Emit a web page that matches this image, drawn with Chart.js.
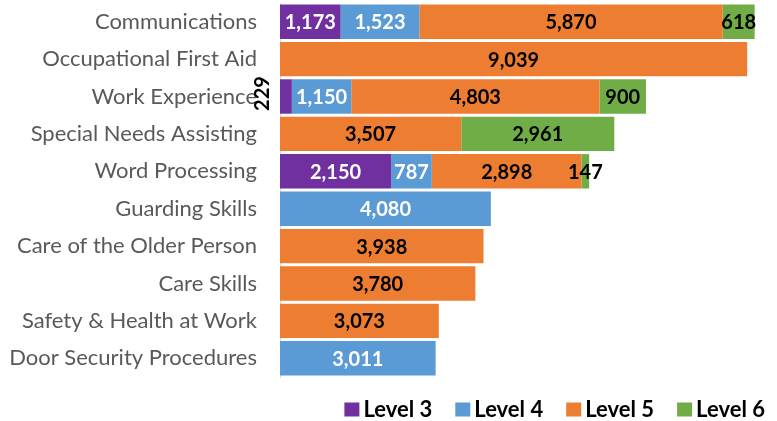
<!DOCTYPE html>
<html><head><meta charset="utf-8">
<script src="https://cdn.jsdelivr.net/npm/chart.js@4"></script>
<style>html,body{margin:0;padding:0;background:#fff}#wrap{width:777px;height:421px}</style>
</head><body><div id="wrap"><canvas id="c"></canvas></div>
<script>
const categories = ["Communications","Occupational First Aid","Work Experience","Special Needs Assisting","Word Processing","Guarding Skills","Care of the Older Person","Care Skills","Safety & Health at Work","Door Security Procedures"];
const level3 = [1173, 0, 229, 0, 2150, 0, 0, 0, 0, 0];
const level4 = [1523, 0, 1150, 0, 787, 4080, 0, 0, 0, 3011];
const level5 = [5870, 9039, 4803, 3507, 2898, 0, 3938, 3780, 3073, 0];
const level6 = [618, 0, 900, 2961, 147, 0, 0, 0, 0, 0];
const seriesNames = ["Level 3","Level 4","Level 5","Level 6"];
const colors = ["#7030A0","#5B9BD5","#ED7D31","#70AD47"];
const labelColors = ["#ffffff","#ffffff","#000000","#000000"];
const FONT = "Lato, 'Open Sans', sans-serif";

const labelPlugin = {
  id: 'barLabels',
  afterDatasetsDraw(chart) {
    const ctx = chart.ctx;
    ctx.save();
    ctx.font = "bold 20px " + FONT;
    ctx.textBaseline = 'middle';
    chart.data.datasets.forEach((ds, di) => {
      const meta = chart.getDatasetMeta(di);
      meta.data.forEach((bar, i) => {
        const v = ds.data[i];
        if (!v) return;
        const txt = v.toLocaleString('en-US');
        const w = ctx.measureText(txt).width;
        const left = Math.min(bar.base, bar.x), right = Math.max(bar.base, bar.x);
        const segW = right - left;
        if (segW < w * 0.5 && di === 0) {
          ctx.save();
          ctx.translate(left - 17, bar.y - 3);
          ctx.rotate(-Math.PI / 2);
          ctx.fillStyle = '#000';
          ctx.textAlign = 'center';
          ctx.fillText(txt, 0, 0);
          ctx.restore();
        } else {
          ctx.fillStyle = segW < w ? '#000' : labelColors[di];
          ctx.textAlign = 'center';
          ctx.fillText(txt, (left + right) / 2, bar.y + 1);
        }
      });
    });
    ctx.restore();
  }
};

const legendPlugin = {
  id: 'customLegend',
  afterDraw(chart) {
    const ctx = chart.ctx;
    ctx.save();
    ctx.font = "bold 22px " + FONT;
    ctx.textBaseline = 'middle';
    ctx.textAlign = 'left';
    const box = 15, boxH = 14, gapBox = 4, gapItem = 23;
    const widths = seriesNames.map(s => ctx.measureText(s).width);
    const total = widths.reduce((a, w) => a + box + gapBox + w, 0) + gapItem * (seriesNames.length - 1);
    let x = 765 - total;
    const yc = 409.5;
    seriesNames.forEach((s, k) => {
      ctx.fillStyle = colors[k];
      ctx.fillRect(x, yc - boxH / 2, box, boxH);
      ctx.fillStyle = '#000';
      ctx.fillText(s, x + box + gapBox, yc);
      x += box + gapBox + widths[k] + gapItem;
    });
    ctx.restore();
  }
};

new Chart(document.getElementById('c'), {
  type: 'bar',
  data: {
    labels: categories,
    datasets: [level3, level4, level5, level6].map((d, k) => ({
      label: seriesNames[k],
      data: d,
      backgroundColor: colors[k],
      borderWidth: 0,
      barPercentage: 0.92,
      categoryPercentage: 1.0
    }))
  },
  options: {
    indexAxis: 'y',
    responsive: true,
    maintainAspectRatio: false,
    animation: false,
    layout: { padding: { left: 0, right: 6, top: 3, bottom: 44 } },
    scales: {
      x: {
        stacked: true, min: 0, max: 9500, display: false,
        grid: { display: false }
      },
      y: {
        stacked: true,
        grid: { display: false, drawTicks: false },
        border: { display: true, color: '#d9d9d9', width: 1 },
        ticks: { color: '#595959', font: { family: FONT, size: 22 }, padding: 23 },
        afterFit(scale) { scale.width = 280; scale.paddingTop = 0; scale.paddingBottom = 0; }
      }
    },
    plugins: {
      legend: { display: false },
      tooltip: { enabled: false }
    }
  },
  plugins: [labelPlugin, legendPlugin]
});
</script></body></html>
